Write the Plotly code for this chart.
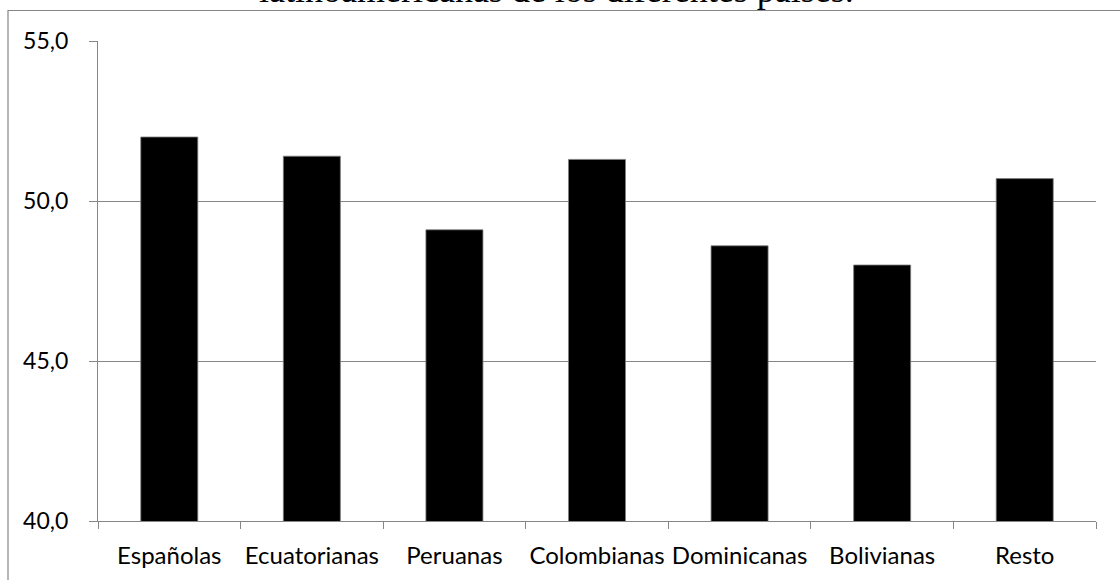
import plotly.graph_objects as go

# Categories and values
categorias = ["Españolas", "Ecuatorianas", "Peruanas", "Colombianas",
              "Dominicanas", "Bolivianas", "Resto"]
valores = [52.0, 51.4, 49.1, 51.3, 48.6, 48.0, 50.7]
y_ticks = [40, 45, 50, 55]
titulo = "latinoamericanas de los diferentes países."

W, H = 1120, 580
ML, MR, MT, MB = 98, 24, 41, 59
PW = W - ML - MR
PH = H - MT - MB

def px_x(px):
    return (px - ML) / PW

def px_y(py):
    return (H - MB - py) / PH

GRAY = "#868686"

fig = go.Figure(go.Bar(
    x=categorias, y=valores,
    marker=dict(color="black", line=dict(color="#7f7f7f", width=0.8)),
    hoverinfo="x+y",
))

fig.update_layout(
    width=W, height=H,
    margin=dict(l=ML, r=MR, t=MT, b=MB, pad=0, autoexpand=False),
    paper_bgcolor="white", plot_bgcolor="white",
    separators=",.",
    bargap=0.6,
    showlegend=False,
    font=dict(family="Lato, sans-serif", size=24, color="black"),
    shapes=[
        # outer frame (left and top edges visible)
        dict(type="rect", xref="paper", yref="paper",
             x0=px_x(8), x1=px_x(1140), y0=px_y(620), y1=px_y(10.5),
             line=dict(color=GRAY, width=1.2), fillcolor="rgba(0,0,0,0)",
             layer="below"),
    ],
    annotations=[
        dict(text=titulo, xref="paper", yref="paper",
             x=px_x(556), y=px_y(12), xanchor="center", yanchor="bottom",
             showarrow=False,
             font=dict(family="Liberation Serif, Times New Roman, serif",
                       size=36, color="black")),
    ],
)

fig.update_xaxes(
    showline=True, linecolor=GRAY, linewidth=1.2,
    ticks="outside", tickson="boundaries", ticklen=7,
    tickcolor=GRAY, tickwidth=1.2,
    tickangle=0, automargin=False,
    ticklabelstandoff=13,
    tickfont=dict(size=24),
    showgrid=False,
)
fig.update_yaxes(
    range=[40, 55], tickvals=y_ticks, tickformat=".1f",
    showline=True, linecolor=GRAY, linewidth=1.2,
    ticks="outside", ticklen=8, tickcolor=GRAY, tickwidth=1.2,
    showgrid=True, gridcolor=GRAY, gridwidth=1.2,
    ticklabelstandoff=16, automargin=False,
    tickfont=dict(size=23),
    zeroline=False,
)

fig.write_html("out.html")
